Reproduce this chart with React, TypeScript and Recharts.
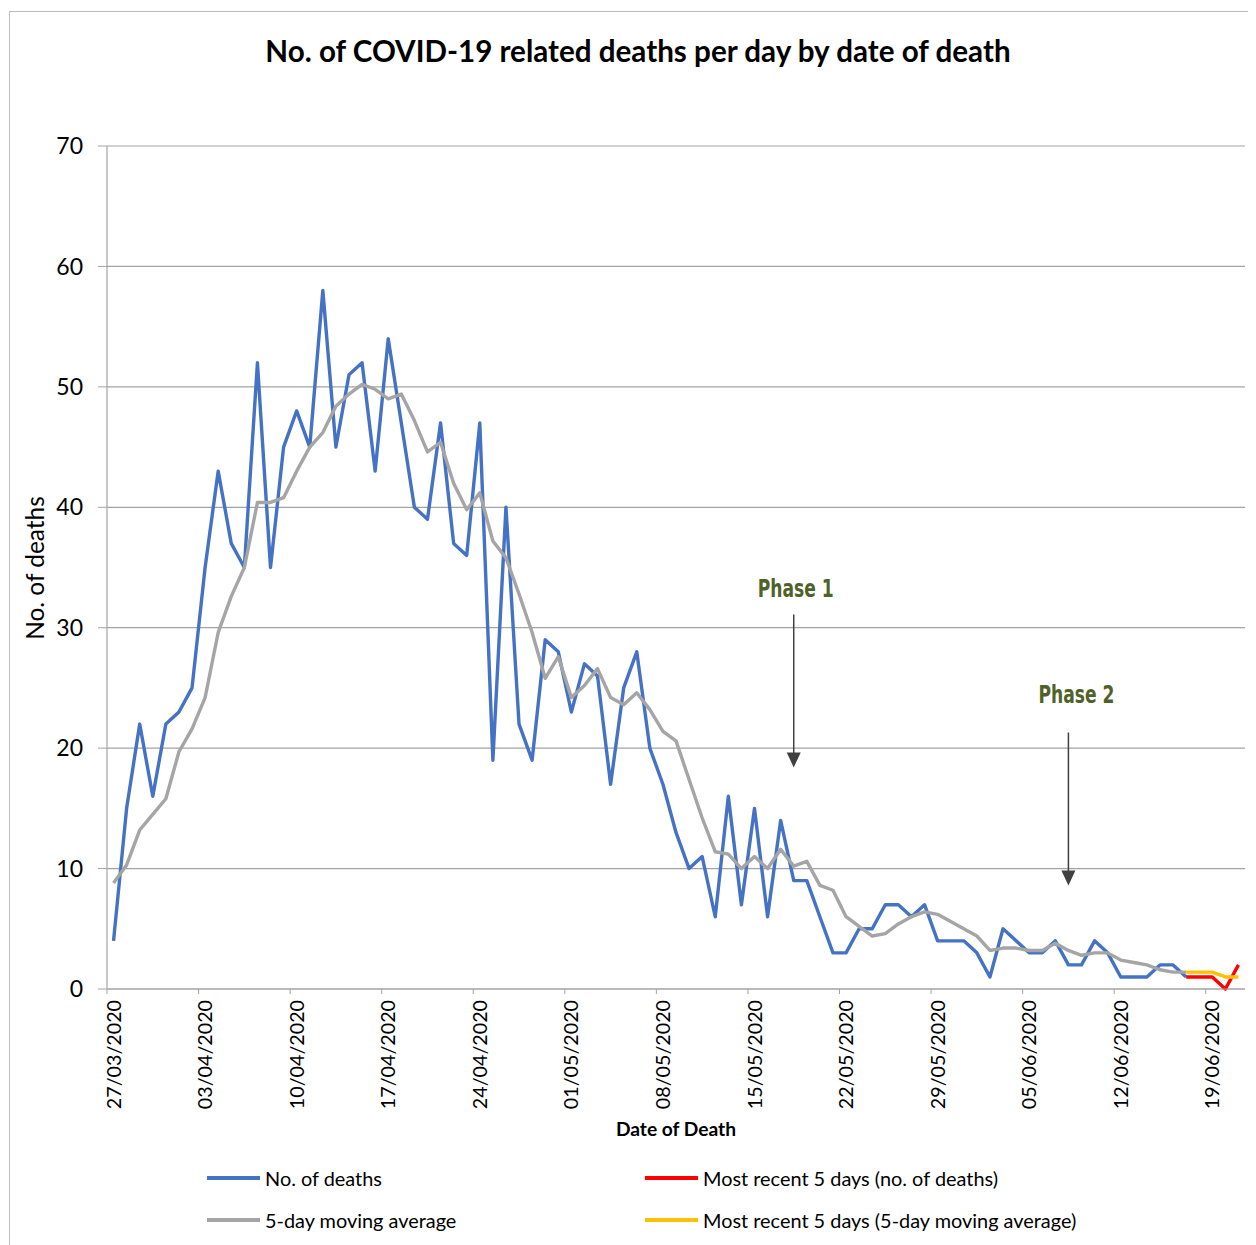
import React from 'react';
import { LineChart, Line, XAxis, YAxis, CartesianGrid, ReferenceLine, Legend } from 'recharts';

const dates = [
  '27/03/2020', '28/03/2020', '29/03/2020', '30/03/2020', '31/03/2020',
  '01/04/2020', '02/04/2020', '03/04/2020', '04/04/2020', '05/04/2020', '06/04/2020', '07/04/2020', '08/04/2020', '09/04/2020', '10/04/2020',
  '11/04/2020', '12/04/2020', '13/04/2020', '14/04/2020', '15/04/2020', '16/04/2020', '17/04/2020', '18/04/2020', '19/04/2020', '20/04/2020',
  '21/04/2020', '22/04/2020', '23/04/2020', '24/04/2020', '25/04/2020', '26/04/2020', '27/04/2020', '28/04/2020', '29/04/2020', '30/04/2020',
  '01/05/2020', '02/05/2020', '03/05/2020', '04/05/2020', '05/05/2020', '06/05/2020', '07/05/2020', '08/05/2020', '09/05/2020', '10/05/2020',
  '11/05/2020', '12/05/2020', '13/05/2020', '14/05/2020', '15/05/2020', '16/05/2020', '17/05/2020', '18/05/2020', '19/05/2020', '20/05/2020',
  '21/05/2020', '22/05/2020', '23/05/2020', '24/05/2020', '25/05/2020', '26/05/2020', '27/05/2020', '28/05/2020', '29/05/2020', '30/05/2020',
  '31/05/2020', '01/06/2020', '02/06/2020', '03/06/2020', '04/06/2020', '05/06/2020', '06/06/2020', '07/06/2020', '08/06/2020', '09/06/2020',
  '10/06/2020', '11/06/2020', '12/06/2020', '13/06/2020', '14/06/2020', '15/06/2020', '16/06/2020', '17/06/2020', '18/06/2020', '19/06/2020',
  '20/06/2020', '21/06/2020',
];

const deaths = [
  4, 15, 22, 16, 22, 23, 25, 35, 43, 37, 35, 52, 35, 45, 48, 45, 58, 45, 51, 52,
  43, 54, 47, 40, 39, 47, 37, 36, 47, 19, 40, 22, 19, 29, 28, 23, 27, 26, 17, 25,
  28, 20, 17, 13, 10, 11, 6, 16, 7, 15, 6, 14, 9, 9, 6, 3, 3, 5, 5, 7,
  7, 6, 7, 4, 4, 4, 3, 1, 5, 4, 3, 3, 4, 2, 2, 4, 3, 1, 1, 1,
  2, 2, 1,
];

const movingAverage = [
  8.8, 10.3, 13.2, 14.5, 15.8, 19.7, 21.6, 24.2, 29.6, 32.6, 35.0, 40.4, 40.4, 40.8, 43.0, 45.0, 46.2, 48.4, 49.4, 50.2,
  49.8, 49.0, 49.4, 47.2, 44.6, 45.4, 42.0, 39.8, 41.2, 37.2, 35.8, 32.8, 29.6, 25.8, 27.6, 24.2, 25.2, 26.6, 24.2, 23.6,
  24.6, 23.2, 21.4, 20.6, 17.4, 14.2, 11.4, 11.2, 10.0, 11.0, 10.0, 11.6, 10.2, 10.6, 8.6, 8.2, 6.0, 5.2, 4.4, 4.6,
  5.4, 6.0, 6.4, 6.2, 5.6, 5.0, 4.4, 3.2, 3.4, 3.4, 3.2, 3.2, 3.8, 3.2, 2.8, 3.0, 3.0, 2.4, 2.2, 2.0,
  1.6, 1.4, 1.4,
];

const recentDeaths = [1, 1, 1, 0, 2];
const recentAverage = [1.4, 1.4, 1.4, 1.0, 1.0];

const xTicks = [0, 7, 14, 21, 28, 35, 42, 49, 56, 63, 70, 77, 84];
const yTicks = [0, 10, 20, 30, 40, 50, 60, 70];

const phases = [
  { label: 'Phase 1', idx: 52, top: 31.1, tip: 18.4 },
  { label: 'Phase 2', idx: 73, top: 21.3, tip: 8.6 },
];
const phaseLabelOffsets = [
  { dx: 2, dy: -17 },
  { dx: 8, dy: -29 },
];

const legendItems = [
  { label: 'No. of deaths', color: '#4472C4' },
  { label: 'Most recent 5 days (no. of deaths)', color: '#FF0000' },
  { label: '5-day moving average', color: '#A5A5A5' },
  { label: 'Most recent 5 days (5-day moving average)', color: '#FFC000' },
];

const recentStart = dates.length - recentDeaths.length;

const data = dates.map((d, i) => ({
  idx: i,
  date: d,
  deaths: i < deaths.length ? deaths[i] : null,
  avg: i < movingAverage.length ? movingAverage[i] : null,
  recent: i >= recentStart ? recentDeaths[i - recentStart] : null,
  recentAvg: i >= recentStart ? recentAverage[i - recentStart] : null,
}));

const W = 1248;
const H = 1237;
const M = { top: 138, right: 11, left: 0, bottom: 0 };
const Y_AXIS_W = 99;
const X_AXIS_H = 256;
const BAND = (W - M.right - Y_AXIS_W) / dates.length;
const FONT = 'Lato, "Open Sans", sans-serif';
const GRID = '#a3a3a3';

const XTick = (props: any) => {
  const { x, y, payload } = props;
  const label = dates[payload.value] ?? '';
  return (
    <g>
      <line x1={x - BAND / 2} y1={y} x2={x - BAND / 2} y2={y + 5} stroke={GRID} strokeWidth={1} />
      <text
        x={x}
        y={y + 11}
        transform={`rotate(-90 ${x} ${y + 11})`}
        textAnchor="end"
        dy="0.36em"
        fontFamily={FONT}
        fontSize={19.7}
        fill="#000"
      >
        {label}
      </text>
    </g>
  );
};

const makeArrow = (label: string, dx: number, dy: number) => (p: any) => {
  const { x1, y1, x2, y2 } = p;
  return (
    <g>
      <text
        x={x1 + dx}
        y={y1 + dy}
        textAnchor="middle"
        fontFamily='"Liberation Sans Narrow", "DejaVu Sans Condensed", sans-serif'
        fontWeight="bold"
        fontSize={25}
        fill="#4F6228"
        textLength={76}
        lengthAdjust="spacingAndGlyphs"
      >
        {label}
      </text>
      <line x1={x1} y1={y1} x2={x2} y2={y2 - 14} stroke="#404040" strokeWidth={1.5} />
      <polygon points={`${x2 - 7},${y2 - 15} ${x2 + 7},${y2 - 15} ${x2},${y2}`} fill="#404040" />
    </g>
  );
};

const LegendContent = () => (
  <div
    style={{
      display: 'grid',
      gridTemplateColumns: '438px 520px',
      rowGap: 0,
      fontFamily: FONT,
      fontSize: 19.9,
      color: '#000',
    }}
  >
    {legendItems.map((it) => (
      <div key={it.label} style={{ display: 'flex', alignItems: 'center', height: 42, whiteSpace: 'nowrap' }}>
        <span style={{ display: 'inline-block', width: 53, height: 3.5, background: it.color, marginRight: 5 }} />
        <span>{it.label}</span>
      </div>
    ))}
  </div>
);

export default function App() {
  return (
    <div style={{ position: 'relative', width: W, height: H, background: '#fff', fontFamily: FONT }}>
      <div
        style={{
          position: 'absolute',
          left: 1,
          top: 3,
          right: -8,
          bottom: -8,
          borderLeft: '1.5px solid #bdbdbd',
          borderTop: '1.5px solid #bdbdbd',
        }}
      />
      <div
        style={{
          position: 'absolute',
          left: 0,
          width: W - 8,
          top: 25,
          textAlign: 'center',
          fontWeight: 'bold',
          fontSize: 29.6,
          lineHeight: '36px',
          color: '#000',
          paddingLeft: 20,
          boxSizing: 'border-box',
          whiteSpace: 'nowrap',
        }}
      >
        No. of COVID-19 related deaths per day by date of death
      </div>
      <div
        style={{
          position: 'absolute',
          left: 25.5,
          top: 560,
          transform: 'translate(-50%, -50%) rotate(-90deg)',
          whiteSpace: 'nowrap',
          fontSize: 24.4,
          color: '#000',
        }}
      >
        No. of deaths
      </div>
      <div
        style={{
          position: 'absolute',
          left: 668,
          top: 1120,
          transform: 'translate(-50%, -50%)',
          whiteSpace: 'nowrap',
          fontSize: 19.2,
          fontWeight: 'bold',
          color: '#000',
        }}
      >
        Date of Death
      </div>
      <div style={{ position: 'absolute', left: 0, top: 0 }}>
        <LineChart width={W} height={H} data={data} margin={M}>
          <CartesianGrid vertical={false} stroke={GRID} strokeWidth={1.2} />
          <XAxis
            type="number"
            dataKey="idx"
            domain={[-0.5, dates.length - 0.5]}
            ticks={xTicks}
            interval={0}
            tick={<XTick />}
            tickLine={false}
            tickSize={0}
            tickMargin={0}
            axisLine={{ stroke: GRID, strokeWidth: 1.2 }}
            height={X_AXIS_H}
            allowDataOverflow
          />
          <YAxis
            type="number"
            domain={[0, 70]}
            ticks={yTicks}
            interval={0}
            width={Y_AXIS_W}
            tickSize={9}
            tickMargin={15}
            tickLine={{ stroke: GRID }}
            axisLine={{ stroke: GRID, strokeWidth: 1.2 }}
            tick={{ fontFamily: FONT, fontSize: 23, fill: '#000' }}
          />
          <Legend
            verticalAlign="middle"
            layout="horizontal"
            content={<LegendContent />}
            wrapperStyle={{ position: 'absolute', left: 199, top: 1149, width: 980, height: 84 }}
          />
          <Line
            type="linear"
            dataKey="deaths"
            stroke="#4472C4"
            strokeWidth={3.4}
            dot={false}
            strokeLinejoin="round"
            isAnimationActive={false}
          />
          <Line
            type="linear"
            dataKey="avg"
            stroke="#A5A5A5"
            strokeWidth={3.4}
            dot={false}
            strokeLinejoin="round"
            isAnimationActive={false}
          />
          <Line
            type="linear"
            dataKey="recent"
            stroke="#FF0000"
            strokeWidth={3.4}
            dot={false}
            strokeLinejoin="round"
            isAnimationActive={false}
          />
          <Line
            type="linear"
            dataKey="recentAvg"
            stroke="#FFC000"
            strokeWidth={3.4}
            dot={false}
            strokeLinejoin="round"
            isAnimationActive={false}
          />
          {phases.map((ph, k) => (
            <ReferenceLine
              key={ph.label}
              segment={[
                { x: ph.idx, y: ph.top },
                { x: ph.idx, y: ph.tip },
              ]}
              stroke="#404040"
              shape={makeArrow(ph.label, phaseLabelOffsets[k].dx, phaseLabelOffsets[k].dy)}
            />
          ))}
        </LineChart>
      </div>
    </div>
  );
}
